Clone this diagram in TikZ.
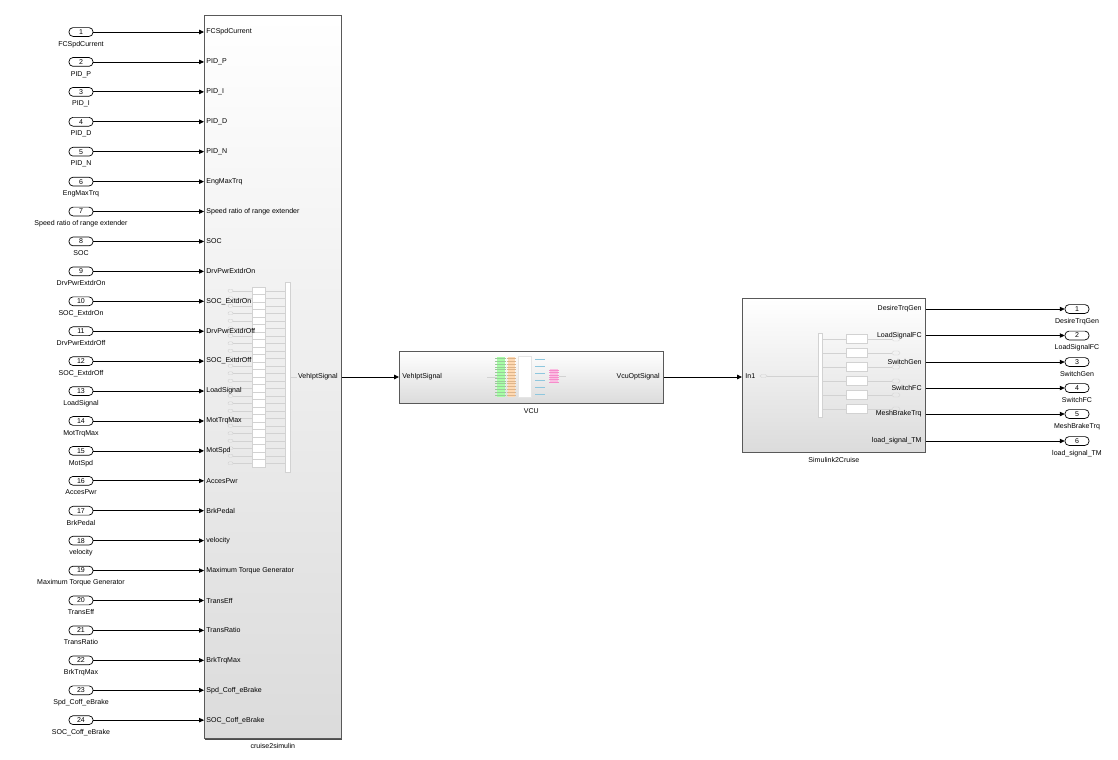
\documentclass[tikz,border=0pt]{standalone}
\usepackage{fontspec}
\setmainfont{Liberation Sans}
\usetikzlibrary{arrows.meta,positioning,shadows}

\tikzset{
  blk/.style={draw=gray!70!black,line width=0.5pt,top color=white,bottom color=gray!28,
    anchor=north west,inner sep=0pt,
    drop shadow={shadow xshift=0.7pt,shadow yshift=-0.7pt,fill=black!70,opacity=1}},
  port/.style={draw,line width=0.5pt,rounded corners=0.1cm,minimum width=0.6cm,
    minimum height=0.22cm,inner sep=0pt,fill=white},
  sig/.style={-{Triangle[length=1.2mm,width=1.1mm]},line width=0.5pt},
  plbl/.style={inner sep=0.8pt},
  faint/.style={draw=gray!35,line width=0.3pt},
}

\begin{document}
\begin{tikzpicture}[x=0.025cm,y=-0.025cm,font=\fontsize{5}{6}\selectfont]
  \useasboundingbox (0,0) rectangle (1118,759);
  % subsystem blocks
  \node[blk,minimum width=3.425cm,minimum height=18.075cm] (c2s) at (204,15) {};
  \node[below=0pt of c2s] (c2sl) {cruise2simulin};
  \node[blk,minimum width=6.6cm,minimum height=1.3cm] (vcu) at (399,351) {};
  \node[below=0pt of vcu] (vcul) {VCU};
  \node[blk,minimum width=4.575cm,minimum height=3.85cm] (s2c) at (742,298) {};
  \node[below=0pt of s2c] (s2cl) {Simulink2Cruise};

  % bus creator inside cruise2simulin (greyed out)
  \foreach \i in {1,...,24}{
    \pgfmathsetmacro\ry{287+(\i-0.5)*7.5}
    \draw[faint] (233,\ry) -- (252,\ry) (265,\ry) -- (285,\ry);
    \draw[faint,fill=white] (252,\ry-3.75) rectangle (265,\ry+3.75);
    \draw[faint,rounded corners=0.03cm] (228,\ry-1.5) rectangle (233,\ry+1.5);
  }
  \draw[faint,fill=white] (285,282) rectangle (290,472);
  \node[plbl,anchor=east] (c2sout) at (339,377) {VehIptSignal};
  \draw[faint] (290,377) -- (c2sout.west);

  % inports 1..24
  \foreach \k/\name in {1/FCSpdCurrent,2/PID\_P,3/PID\_I,4/PID\_D,5/PID\_N,6/EngMaxTrq,
      7/Speed ratio of range extender,8/SOC,9/DrvPwrExtdrOn,10/SOC\_ExtdrOn,
      11/DrvPwrExtdrOff,12/SOC\_ExtdrOff,13/LoadSignal,14/MotTrqMax,15/MotSpd,
      16/AccesPwr,17/BrkPedal,18/velocity,19/Maximum Torque Generator,20/TransEff,
      21/TransRatio,22/BrkTrqMax,23/Spd\_Coff\_eBrake,24/SOC\_Coff\_eBrake}{
    \pgfmathsetmacro\yy{32+(\k-1)*29.92}
    \node[port] (ip\k) at (81,\yy) {\k};
    \node[below=2.5pt of ip\k,inner sep=0.5pt] (ipl\k) {\name};
    \node[plbl,anchor=west] (c2sin\k) at (205,\yy) {\name};
    \draw[sig] (ip\k.east) -- (ip\k.east -| c2s.west);
  }

  % VCU contents (greyed out)
  \draw[faint] (487,377) -- (497,377);
  \fill[green!35] (497,357) rectangle (505,397);
  \fill[orange!30] (508,357) rectangle (515,397);
  \foreach \j in {0,...,13}{
    \draw[green!50!black!40,line width=0.3pt] (495,358.5+\j*2.8) -- (506,358.5+\j*2.8);
    \draw[orange!70!black!45,line width=0.3pt] (507,358.5+\j*2.8) -- (516,358.5+\j*2.8);
  }
  \draw[gray!20,fill=white] (518,356) rectangle (531,397);
  \foreach \j in {0,...,5}
    \draw[cyan!50!teal!50,line width=0.6pt] (535,359.5+\j*7) -- (545,359.5+\j*7);
  \fill[magenta!25] (550,369) rectangle (558,383);
  \foreach \j in {0,...,5}
    \draw[magenta!45,line width=0.3pt] (549,370+\j*2.4) -- (559,370+\j*2.4);
  \draw[faint] (559,376) -- (566,376);
  \node[plbl,anchor=west] (vcuin) at (401,377) {VehIptSignal};
  \node[plbl,anchor=east] (vcuout) at (661,377) {VcuOptSignal};
  \draw[sig] (c2sout -| c2s.east) -- (c2sout -| vcu.west);

  % Simulink2Cruise contents (greyed out)
  \draw[faint,rounded corners=0.04cm] (760,374.5) rectangle (767,377.5);
  \draw[faint] (767,376) -- (818,376);
  \draw[faint,fill=white] (818,333) rectangle (822,417);
  \foreach \j in {0,...,5}{
    \pgfmathsetmacro\ry{339+14*\j}
    \draw[faint] (822,\ry) -- (846,\ry) (867,\ry) -- (892,\ry);
    \draw[faint,fill=white] (846,\ry-4.5) rectangle (867,\ry+4.5);
    \draw[faint,rounded corners=0.04cm] (892,\ry-2) rectangle (900,\ry+2);
  }
  \node[plbl,anchor=west] (s2cin) at (744,376) {In1};
  \draw[sig] (vcuout -| vcu.east) -- (vcuout -| s2c.west);

  % outports 1..6
  \foreach \k/\name/\yy in {1/DesireTrqGen/309,2/LoadSignalFC/335.5,3/SwitchGen/362,
      4/SwitchFC/388,5/MeshBrakeTrq/414,6/load\_signal\_TM/441}{
    \node[plbl,anchor=east] (s2cout\k) at (923,\yy) {\name};
    \node[port] (op\k) at (1077,\yy) {\k};
    \node[below=2.5pt of op\k,inner sep=0.5pt] (opl\k) {\name};
    \draw[sig] (s2cout\k.east -| s2c.east) -- (op\k.west);
  }
\end{tikzpicture}
\end{document}
